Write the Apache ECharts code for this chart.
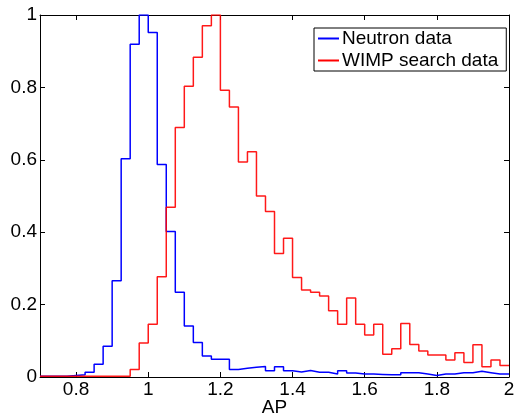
<!DOCTYPE html>
<html>
<head>
<meta charset="utf-8">
<script src="https://cdn.jsdelivr.net/npm/echarts@6/dist/echarts.min.js"></script>
<style>
html,body{margin:0;padding:0;background:#fff;}
#chart{width:514px;height:415px;}
</style>
</head>
<body>
<div id="chart"></div>
<script>
// Histogram bins: left edges from 0.7 with width 0.025, last edge 2.0
var binStart = 0.7;
var binWidth = 0.025;
var binCount = 52;

var neutronData = [
  0.002, 0.002, 0.002, 0.004, 0.006, 0.013, 0.035, 0.085, 0.266, 0.603,
  0.919, 1.000, 0.952, 0.587, 0.402, 0.234, 0.141, 0.095, 0.058, 0.049,
  0.049, 0.021, 0.024, 0.027, 0.029, 0.017, 0.028, 0.017, 0.014, 0.018,
  0.013, 0.013, 0.008, 0.017, 0.011, 0.008, 0.008, 0.007, 0.006, 0.006,
  0.012, 0.012, 0.008, 0.004, 0.008, 0.008, 0.012, 0.012, 0.016, 0.012,
  0.008, 0.008
];

var wimpData = [
  0.002, 0.002, 0.002, 0.002, 0.002, 0.002, 0.002, 0.002, 0.002, 0.002,
  0.021, 0.094, 0.146, 0.277, 0.469, 0.689, 0.803, 0.883, 0.970, 1.000,
  0.792, 0.746, 0.594, 0.622, 0.500, 0.457, 0.341, 0.383, 0.275, 0.240,
  0.234, 0.224, 0.183, 0.146, 0.218, 0.146, 0.116, 0.146, 0.063, 0.078,
  0.148, 0.090, 0.072, 0.061, 0.061, 0.047, 0.067, 0.040, 0.089, 0.028,
  0.047, 0.032
];

var xTicks = [0.8, 1.0, 1.2, 1.4, 1.6, 1.8, 2.0];
var yTicks = [0, 0.2, 0.4, 0.6, 0.8, 1];
var seriesNames = ['Neutron data', 'WIMP search data'];

function stepPoints(vals) {
  var pts = [];
  for (var i = 0; i < vals.length; i++) {
    var e = +(binStart + i * binWidth).toFixed(4);
    pts.push([e, vals[i]]);
  }
  var last = +(binStart + vals.length * binWidth).toFixed(4);
  pts.push([last, vals[vals.length - 1]]);
  return pts;
}

var FONT = 'Liberation Sans, Arial, Helvetica, sans-serif';
var FS = 19;

var chart = echarts.init(document.getElementById('chart'), null, {renderer: 'canvas'});

var commonAxisLine = {show: true, onZero: false, lineStyle: {color: '#000', width: 1}};

var option = {
  backgroundColor: '#fff',
  animation: false,
  textStyle: {fontFamily: FONT},
  grid: {left: 40, right: 5, top: 15, bottom: 38, containLabel: false, outerBoundsMode: 'none'},
  legend: {
    data: seriesNames,
    orient: 'vertical',
    left: 314,
    top: 28,
    padding: [1, 8, 1, 4],
    itemGap: 3,
    itemWidth: 21,
    itemHeight: 2,
    icon: 'rect',
    backgroundColor: '#fff',
    borderColor: '#000',
    borderWidth: 1,
    borderRadius: 0,
    textStyle: {fontFamily: FONT, fontSize: FS, color: '#000', lineHeight: 19, padding: [0, 0, 0, -2]}
  },
  xAxis: [
    {
      type: 'value', position: 'bottom', min: 0.7, max: 2,
      name: 'AP', nameLocation: 'middle', nameGap: 21, nameMoveOverlap: false,
      nameTextStyle: {fontFamily: FONT, fontSize: FS, color: '#000', verticalAlign: 'top', lineHeight: 19},
      axisLine: commonAxisLine,
      axisTick: {show: true, inside: true, length: 5, customValues: xTicks, lineStyle: {color: '#000'}},
      axisLabel: {show: true, customValues: xTicks, margin: 3, fontFamily: FONT, fontSize: FS, color: '#000'},
      splitLine: {show: false}
    },
    {
      type: 'value', position: 'top', min: 0.7, max: 2,
      axisLine: commonAxisLine,
      axisTick: {show: true, inside: true, length: 5, customValues: xTicks, lineStyle: {color: '#000'}},
      axisLabel: {show: false},
      splitLine: {show: false}
    }
  ],
  yAxis: [
    {
      type: 'value', position: 'left', min: 0, max: 1, interval: 0.2,
      axisLine: commonAxisLine,
      axisTick: {show: true, inside: true, length: 5, lineStyle: {color: '#000'}},
      axisLabel: {show: true, margin: 3, fontFamily: FONT, fontSize: FS, color: '#000'},
      splitLine: {show: false}
    },
    {
      type: 'value', position: 'right', min: 0, max: 1, interval: 0.2,
      axisLine: commonAxisLine,
      axisTick: {show: true, inside: true, length: 5, lineStyle: {color: '#000'}},
      axisLabel: {show: false},
      splitLine: {show: false}
    }
  ],
  series: [
    {
      name: seriesNames[0], type: 'line', step: 'end', xAxisIndex: 0, yAxisIndex: 0,
      data: stepPoints(neutronData), symbol: 'none', showSymbol: false,
      lineStyle: {color: '#0000ff', width: 1.5}, itemStyle: {color: '#0000ff'}, z: 2
    },
    {
      name: seriesNames[1], type: 'line', step: 'end', xAxisIndex: 0, yAxisIndex: 0,
      data: stepPoints(wimpData), symbol: 'none', showSymbol: false,
      lineStyle: {color: '#ff0000', width: 1.5, opacity: 0.9}, itemStyle: {color: '#ff0000'}, z: 3
    }
  ]
};
chart.setOption(option);
</script>
</body>
</html>
